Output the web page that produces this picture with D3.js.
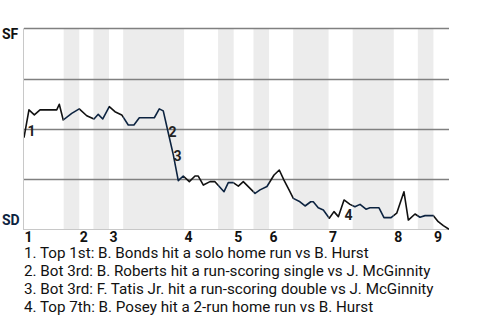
<!DOCTYPE html>
<html>
<head>
<meta charset="utf-8">
<script src="https://cdn.jsdelivr.net/npm/d3@7"></script>
<style>
  html, body { margin: 0; padding: 0; background: #fff; }
  svg { display: block; font-family: Roboto, "Noto Sans", sans-serif; }
</style>
</head>
<body>
<svg id="chart" width="480" height="320"></svg>
<script>
// ---- data ----
// pitch index of each plotted point, and San Diego win probability at that point
const pitchIndex = [0, 3.5, 7.3, 11.3, 23.1, 24.9, 27.7, 33.7, 39.0, 44.3, 49.4, 52.4, 55.6, 60.2, 64.2, 69.0,
  73.6, 77.6, 81.4, 92.0, 95.5, 98.3, 101.9, 105.4, 108.9, 112.4, 116.7, 120.7, 123.0, 126.6, 131.3, 134.8,
  141.2, 144.2, 147.7, 151.3, 154.8, 163.1, 166.6, 171.5, 176.5, 180.2, 183.5, 187.1, 190.1, 194.8, 198.4,
  202.4, 204.2, 207.7, 211.3, 215.5, 218.8, 221.9, 225.9, 230.1, 233.6, 237.2, 241.4, 244.2, 250.6, 254.1,
  259.1, 263.1, 268.2, 271.3, 276.0, 279.5, 283.1, 289.0, 292.4, 296.0, 300];
const sdWinProb = [0.544, 0.406, 0.431, 0.406, 0.406, 0.378, 0.456, 0.423, 0.401, 0.435, 0.451, 0.428, 0.451,
  0.390, 0.415, 0.431, 0.481, 0.481, 0.445, 0.445, 0.401, 0.411, 0.522, 0.630, 0.758, 0.735, 0.763, 0.735,
  0.735, 0.780, 0.763, 0.763, 0.813, 0.768, 0.768, 0.785, 0.763, 0.821, 0.804, 0.787, 0.730, 0.705, 0.755,
  0.804, 0.846, 0.863, 0.884, 0.863, 0.863, 0.893, 0.904, 0.945, 0.912, 0.937, 0.854, 0.876, 0.888, 0.876,
  0.900, 0.893, 0.893, 0.942, 0.942, 0.920, 0.813, 0.954, 0.924, 0.940, 0.932, 0.932, 0.962, 0.982, 1.0];
// half-inning start pitch indices (top 1, bot 1, top 2, ...), and final pitch
const halfInningStarts = [0, 28, 39, 49, 60, 70, 113, 137, 148, 162, 173, 190, 215, 232, 261, 278, 289];
const lastPitch = 300;
const inningLabels = ["1", "2", "3", "4", "5", "6", "7", "8", "9"];
const gridValues = [0, 0.25, 0.5, 0.75];
const teams = ["SF", "SD"];
const annoNumbers = ["1", "2", "3", "4"];
const annoPitch = [2.1, 101.6, 105.2, 225.9];
const annoProb = [0.511, 0.518, 0.633, 0.929];
const notes = [
  "1. Top 1st: B. Bonds hit a solo home run vs B. Hurst",
  "2. Bot 3rd: B. Roberts hit a run-scoring single vs J. McGinnity",
  "3. Bot 3rd: F. Tatis Jr. hit a run-scoring double vs J. McGinnity",
  "4. Top 7th: B. Posey hit a 2-run home run vs B. Hurst"
];

(function () {
// ---- layout ----
const mL = 24, mR = 449, mT = 28.3, mB = 229.3;
const sfColor = "#111111", sdColor = "#0C2340";
const svg = d3.select("#chart");
const x = d3.scaleLinear().domain([0, lastPitch]).range([mL, mR]);
const y = d3.scaleLinear().domain([0, 1]).range([mT, mB]);

const halves = halfInningStarts.map((s, i) => ({
  start: s,
  end: i + 1 < halfInningStarts.length ? halfInningStarts[i + 1] : lastPitch,
  bottom: i % 2 === 1
}));

// shaded bottom halves
svg.append("g").selectAll("rect").data(halves.filter(h => h.bottom)).join("rect")
  .attr("x", d => x(d.start)).attr("width", d => x(d.end) - x(d.start))
  .attr("y", mT).attr("height", mB - mT)
  .attr("fill", "#ececec");

// gridlines
svg.append("g").selectAll("line").data(gridValues).join("line")
  .attr("x1", mL).attr("x2", mR)
  .attr("y1", d => Math.round(y(d)) + 0.5).attr("y2", d => Math.round(y(d)) + 0.5)
  .attr("stroke", "#808080").attr("stroke-width", 1.3);

// axes lines
svg.append("line").attr("x1", mL - 0.5).attr("x2", mL - 0.5).attr("y1", mT).attr("y2", mB)
  .attr("stroke", "#c8c8c8").attr("stroke-width", 1);
svg.append("line").attr("x1", mL - 1).attr("x2", mR).attr("y1", Math.round(mB) + 0.5).attr("y2", Math.round(mB) + 0.5)
  .attr("stroke", "#c8c8c8").attr("stroke-width", 1);

// clip paths for top / bottom halves
const defs = svg.append("defs");
["top", "bot"].forEach((k, idx) => {
  const cp = defs.append("clipPath").attr("id", "clip-" + k);
  halves.filter(h => h.bottom === (idx === 1)).forEach(h => {
    cp.append("rect").attr("x", x(h.start)).attr("width", x(h.end) - x(h.start))
      .attr("y", 0).attr("height", 320);
  });
});

const pts = pitchIndex.map((p, i) => [p, sdWinProb[i]]);
const line = d3.line().x(d => x(d[0])).y(d => y(d[1]));
svg.append("path").datum(pts).attr("d", line).attr("fill", "none")
  .attr("stroke", sfColor).attr("stroke-width", 1.6).attr("stroke-linejoin", "round")
  .attr("clip-path", "url(#clip-top)");
svg.append("path").datum(pts).attr("d", line).attr("fill", "none")
  .attr("stroke", sdColor).attr("stroke-width", 1.6).attr("stroke-linejoin", "round")
  .attr("clip-path", "url(#clip-bot)");

// team labels
svg.append("text").attr("x", 2).attr("y", 39).text(teams[0])
  .attr("font-size", 14).attr("font-weight", "bold").attr("fill", "#111");
svg.append("text").attr("x", 2).attr("y", 224.5).text(teams[1])
  .attr("font-size", 14).attr("font-weight", "bold").attr("fill", sdColor);

// inning labels
const inningStarts = halves.filter(h => !h.bottom).map(h => h.start);
svg.append("g").selectAll("text").data(inningLabels).join("text")
  .attr("x", (d, i) => x(inningStarts[i]) + 0.5).attr("y", 242)
  .attr("font-size", 14).attr("font-weight", "bold").attr("fill", "#111")
  .text(d => d);

// annotation numbers
svg.append("g").selectAll("text").data(annoNumbers).join("text")
  .attr("x", (d, i) => x(annoPitch[i]) + 0.5).attr("y", (d, i) => y(annoProb[i]))
  .attr("dy", "0.36em")
  .attr("font-size", 14).attr("font-weight", "bold").attr("fill", "#222")
  .text(d => d);

// notes
svg.append("g").selectAll("text").data(notes).join("text")
  .attr("x", 24).attr("y", (d, i) => 258 + i * 18)
  .attr("font-size", 15.2).attr("fill", "#111")
  .text(d => d);
})();
</script>
</body>
</html>
